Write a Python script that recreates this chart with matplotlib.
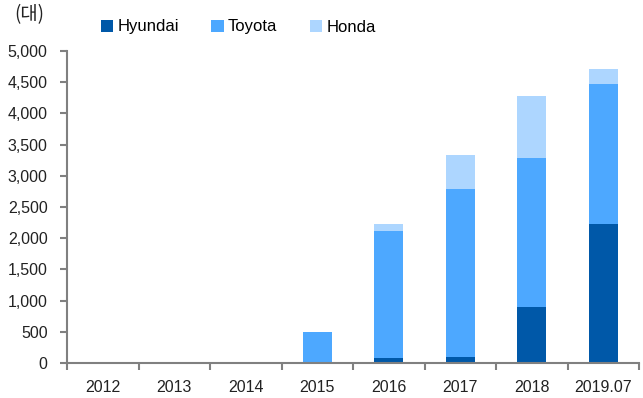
import matplotlib
matplotlib.use("Agg")
import matplotlib.pyplot as plt
import numpy as np
from matplotlib.ticker import FuncFormatter, MultipleLocator, FixedLocator

categories = ["2012", "2013", "2014", "2015", "2016", "2017", "2018", "2019.07"]
hyundai = [0, 0, 0, 0, 75, 91, 893, 2223]
toyota = [0, 10, 8, 497, 2046, 2698, 2398, 2249]
honda = [0, 8, 5, 0, 112, 540, 984, 246]

colors = {"Hyundai": "#0058A8", "Toyota": "#4DA8FF", "Honda": "#ADD6FF"}
font = ["Liberation Sans", "DejaVu Sans"]
plt.rcParams["font.family"] = font

fig = plt.figure(figsize=(6.43, 3.98), dpi=100)
ax = fig.add_axes([67/643, 1 - 363/398, 572/643, 312/398])

x = np.arange(len(categories))
w = 0.4
h = np.array(hyundai)
t = np.array(toyota)
o = np.array(honda)
ax.bar(x, h, w, color=colors["Hyundai"], label="Hyundai")
ax.bar(x, t, w, bottom=h, color=colors["Toyota"], label="Toyota")
ax.bar(x, o, w, bottom=h + t, color=colors["Honda"], label="Honda")

ax.set_xlim(-0.5, len(categories) - 0.5)
ax.set_ylim(0, 5000)
ax.yaxis.set_major_locator(MultipleLocator(500))
ax.yaxis.set_major_formatter(FuncFormatter(lambda v, p: f"{int(v):,}"))
ax.set_xticks(x)
ax.set_xticklabels(categories)
ax.xaxis.set_minor_locator(FixedLocator(np.arange(-0.5, len(categories), 1)))
ax.tick_params(axis="x", which="major", length=0, pad=12, labelsize=11.5, colors="#222222")
ax.tick_params(axis="x", which="minor", length=5, width=1.5, color="#808080", direction="out")
ax.tick_params(axis="y", length=5, width=1.5, color="#808080", labelsize=11.5, labelcolor="#222222", pad=9)

for s in ["top", "right"]:
    ax.spines[s].set_visible(False)
for s in ["left", "bottom"]:
    ax.spines[s].set_color("#808080")
    ax.spines[s].set_linewidth(1.5)

fig.text(14/643, 1 - 15/398, "(대)", fontsize=13.5, va="center", ha="left",
         family=["Noto Sans CJK KR", "DejaVu Sans"], color="#222222")

leg = fig.legend(loc="center left", bbox_to_anchor=(94/643, 1 - 27/398), ncol=3,
                 frameon=False, fontsize=12, handlelength=0.75, handleheight=0.75,
                 handletextpad=0.25, columnspacing=1.95, borderaxespad=0)

fig.savefig("out.png", dpi=100)
